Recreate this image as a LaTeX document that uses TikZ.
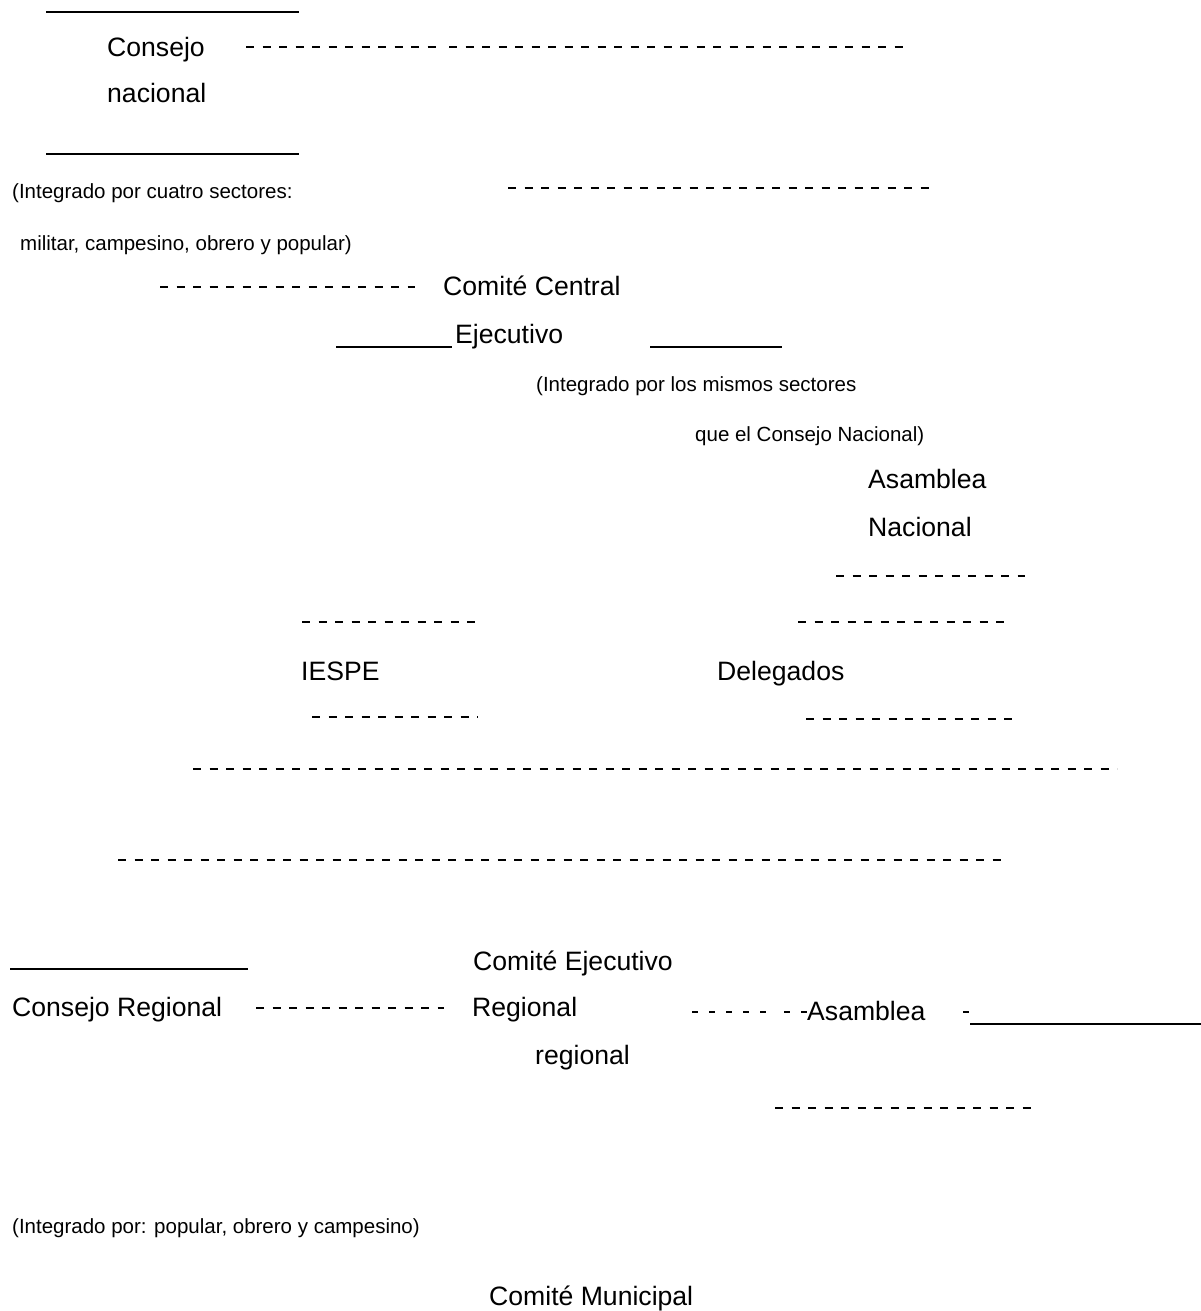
\documentclass[tikz,border=0pt]{standalone}
\usepackage{fontspec}
\setmainfont{Liberation Sans}
\tikzset{
  big/.style={anchor=base west,inner sep=0pt,font=\fontsize{26.6}{30}\selectfont},
  small/.style={anchor=base west,inner sep=0pt,font=\fontsize{20.5}{24}\selectfont},
  dline/.style={line width=2.8pt,dash pattern=on 8pt off 8.5pt},
  sdash/.style={line width=2.2pt,dash pattern=on 6pt off 11pt},
  sline/.style={line width=2.2pt}
}
\begin{document}
\begin{tikzpicture}[x=1pt,y=-1pt]
\useasboundingbox[fill=white] (0,0) rectangle (1201,1311);
% top block
\draw[sline] (46,12) -- (299,12);
\node[big] (consejo) at (107,57) {Consejo};
\draw[dline] (246,47) -- (437,47);
\draw[dline] (449,47) -- (907,47);
\node[big] (nacional) at (107,103) {nacional};
\draw[sline] (46,154) -- (299,154);
\node[small] (int1) at (12,198) {(Integrado por cuatro sectores:};
\draw[dline] (508,188) -- (934,188);
\node[small] (int2) at (20,250) {militar, campesino, obrero y popular)};
\draw[dline] (160,287) -- (415,287);
\node[big] (cc) at (443,295) {Comité Central};
\draw[sline] (336,347) -- (452,347);
\node[big] (ejec) at (455,343) {Ejecutivo};
\draw[sline] (650,347) -- (782,347);
\node[small] (int3) at (536,391) {(Integrado por los mismos sectores};
\node[small] (int4) at (695,441) {que el Consejo Nacional)};
\node[big] (asam1) at (868,488) {Asamblea};
\node[big] (asam2) at (868,536) {Nacional};
\draw[dline] (836,576) -- (1025,576);
\draw[dline] (302,622) -- (483,622);
\draw[dline] (798,622) -- (1005,622);
\node[big] (iespe) at (301,680) {IESPE};
\node[big] (deleg) at (717,680) {Delegados};
\draw[dline] (312,717) -- (478,717);
\draw[dline] (806,719) -- (1013,719);
\draw[dline] (193,769) -- (1117,769);
\draw[dline] (118,860) -- (1003,860);
% regional
\draw[sline] (10,969) -- (248,969);
\node[big] (cer1) at (473,970) {Comité Ejecutivo};
\node[big] (creg) at (12,1016) {Consejo Regional};
\draw[dline] (256,1008) -- (444,1008);
\node[big] (cer2) at (472,1016) {Regional};
\draw[sdash] (692,1012) -- (766,1012);
\draw[sdash] (784,1012) -- (807,1012);
\node[big] (asam3) at (807,1020) {Asamblea};
\draw[line width=2pt] (963,1012) -- (969,1012);
\draw[sline] (970,1024) -- (1201,1024);
\node[big] (cer3) at (535,1064) {regional};
\draw[dline] (775,1108) -- (1033,1108);
\node[small] (int5) at (12,1233) {(Integrado por: popular, obrero y campesino)};
\node[big] (cm) at (489,1305) {Comité Municipal};
\end{tikzpicture}
\end{document}
